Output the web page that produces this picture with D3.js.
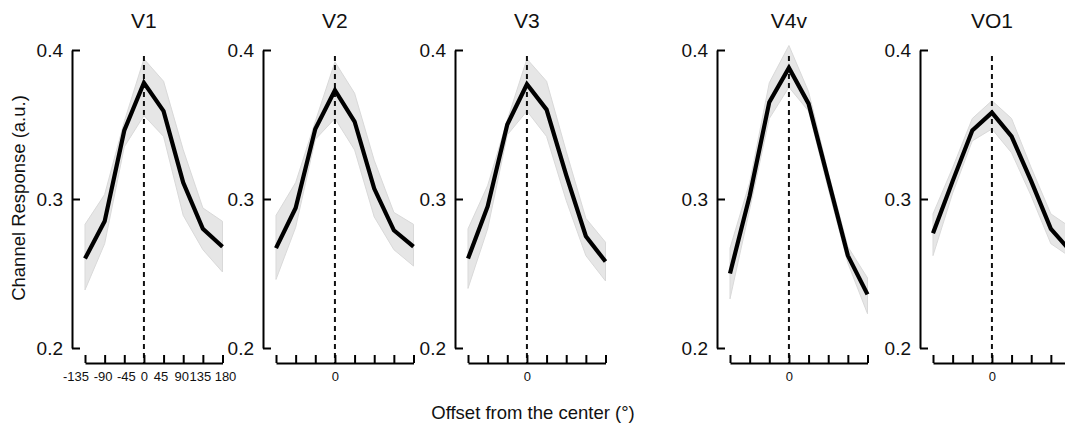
<!DOCTYPE html>
<html>
<head>
  <style>
    body {
      margin: 0;
      background: #fff;
      font-family: "Liberation Sans", Arial, Helvetica, sans-serif;
    }
    .axis path, .axis line {
      stroke: #000;
      stroke-width: 2px;
    }
    .y-axis text {
      font-size: 19px;
      fill: #111;
    }
    .x-axis text {
      font-size: 13px;
      fill: #111;
    }
    .panel-title {
      font-size: 21px;
      fill: #111;
    }
    .axis-title {
      font-size: 18.5px;
      fill: #111;
    }
  </style>
  <script src="https://d3js.org/d3.v7.min.js"></script>
</head>
<body>
<div class="chart"></div>
<script>

// offsets from the center (deg)
const offsets = [-135, -90, -45, 0, 45, 90, 135, 180];
const regions = ['V1', 'V2', 'V3', 'V4v', 'VO1'];
const yTicks = [0.2, 0.3, 0.4];

// mean channel response per region, with upper / lower edge of the shaded error band
const v1Mean  = [0.260, 0.285, 0.346, 0.378, 0.359, 0.311, 0.280, 0.268];
const v1Upper = [0.283, 0.303, 0.352, 0.394, 0.379, 0.333, 0.294, 0.285];
const v1Lower = [0.239, 0.270, 0.335, 0.356, 0.342, 0.289, 0.266, 0.251];

const v2Mean  = [0.267, 0.294, 0.347, 0.373, 0.352, 0.307, 0.279, 0.268];
const v2Upper = [0.289, 0.311, 0.352, 0.392, 0.371, 0.326, 0.291, 0.283];
const v2Lower = [0.246, 0.281, 0.340, 0.354, 0.333, 0.288, 0.266, 0.255];

const v3Mean  = [0.260, 0.295, 0.350, 0.377, 0.360, 0.316, 0.275, 0.258];
const v3Upper = [0.280, 0.309, 0.353, 0.394, 0.379, 0.332, 0.287, 0.271];
const v3Lower = [0.240, 0.280, 0.343, 0.359, 0.342, 0.299, 0.262, 0.245];

const v4vMean  = [0.250, 0.302, 0.365, 0.388, 0.364, 0.313, 0.262, 0.236];
const v4vUpper = [0.267, 0.311, 0.378, 0.403, 0.372, 0.318, 0.268, 0.247];
const v4vLower = [0.233, 0.293, 0.354, 0.375, 0.359, 0.307, 0.257, 0.223];

const vo1Mean  = [0.277, 0.312, 0.346, 0.358, 0.342, 0.312, 0.280, 0.265];
const vo1Upper = [0.290, 0.321, 0.354, 0.366, 0.354, 0.321, 0.290, 0.281];
const vo1Lower = [0.262, 0.304, 0.339, 0.347, 0.331, 0.302, 0.270, 0.261];

const means  = [v1Mean, v2Mean, v3Mean, v4vMean, vo1Mean];
const uppers = [v1Upper, v2Upper, v3Upper, v4vUpper, vo1Upper];
const lowers = [v1Lower, v2Lower, v3Lower, v4vLower, vo1Lower];

// layout
const width = 1065;
const height = 426;
const panelLeft = [72, 263, 455, 717, 920]; // x of each y axis
const xGap = 13;
const xWidth = 137.5;
const yTop = 50;
const yBottom = 348;
const xAxisY = 363;
// the first panel's crowded tick labels are spread a little
const labelNudge = [-9.5, -2, 1.5, 0, -3, -2, -3, 2.5];

const svg = d3.select('.chart')
  .append('svg')
  .attr('width', width)
  .attr('height', height);

const y = d3.scaleLinear()
  .domain([0.2, 0.4])
  .range([yBottom, yTop]);

regions.forEach((region, i)=>{
  const left = panelLeft[i];
  const x = d3.scaleLinear()
    .domain([offsets[0], offsets[offsets.length - 1]])
    .range([left + xGap, left + xGap + xWidth]);

  const g = svg.append('g').attr('class', 'panel');

  const rows = offsets.map((o, j)=>({x: o, m: means[i][j], hi: uppers[i][j], lo: lowers[i][j]}));

  // error band
  g.append('path')
    .datum(rows)
    .attr('fill', '#e6e6e6')
    .attr('stroke', '#d9d9d9')
    .attr('stroke-width', 1)
    .attr('d', d3.area()
      .x(d=>x(d.x))
      .y0(d=>y(d.lo))
      .y1(d=>y(d.hi)));

  // center reference
  g.append('line')
    .attr('x1', x(0))
    .attr('x2', x(0))
    .attr('y1', y(0.4) + 6)
    .attr('y2', xAxisY)
    .attr('stroke', '#111')
    .attr('stroke-width', 2)
    .attr('stroke-dasharray', '5,4');

  // mean response
  g.append('path')
    .datum(rows)
    .attr('fill', 'none')
    .attr('stroke', '#000')
    .attr('stroke-width', 4.2)
    .attr('stroke-linejoin', 'miter')
    .attr('d', d3.line()
      .x(d=>x(d.x))
      .y(d=>y(d.m)));

  // y axis, ticks pointing inward
  g.append('g')
    .attr('class', 'axis y-axis')
    .attr('transform', `translate(${left},0)`)
    .call(d3.axisLeft(y)
      .tickValues(yTicks)
      .tickSize(-8)
      .tickSizeOuter(0)
      .tickPadding(9)
      .tickFormat(d3.format('.1f')))
    .call(ax=>ax.selectAll('text').attr('dy', '0.36em'));

  // x axis, ticks pointing up
  g.append('g')
    .attr('class', 'axis x-axis')
    .attr('transform', `translate(0,${xAxisY})`)
    .call(d3.axisBottom(x)
      .tickValues(offsets)
      .tickSize(-8)
      .tickSizeOuter(0)
      .tickPadding(9)
      .tickFormat(d=> (i === 0 || d === 0) ? d : ''))
    .call(ax=>{
      if (i === 0) ax.selectAll('text').attr('dx', (d, j)=>labelNudge[j]);
    });

  g.append('text')
    .attr('class', 'panel-title')
    .attr('x', x(0))
    .attr('y', 28)
    .attr('text-anchor', 'middle')
    .text(region);
});

svg.append('text')
  .attr('class', 'axis-title')
  .attr('transform', 'translate(25,198) rotate(-90)')
  .attr('text-anchor', 'middle')
  .text('Channel Response (a.u.)');

svg.append('text')
  .attr('class', 'axis-title')
  .attr('x', 533)
  .attr('y', 419)
  .attr('text-anchor', 'middle')
  .text('Offset from the center (°)');

</script>
</body>
</html>
